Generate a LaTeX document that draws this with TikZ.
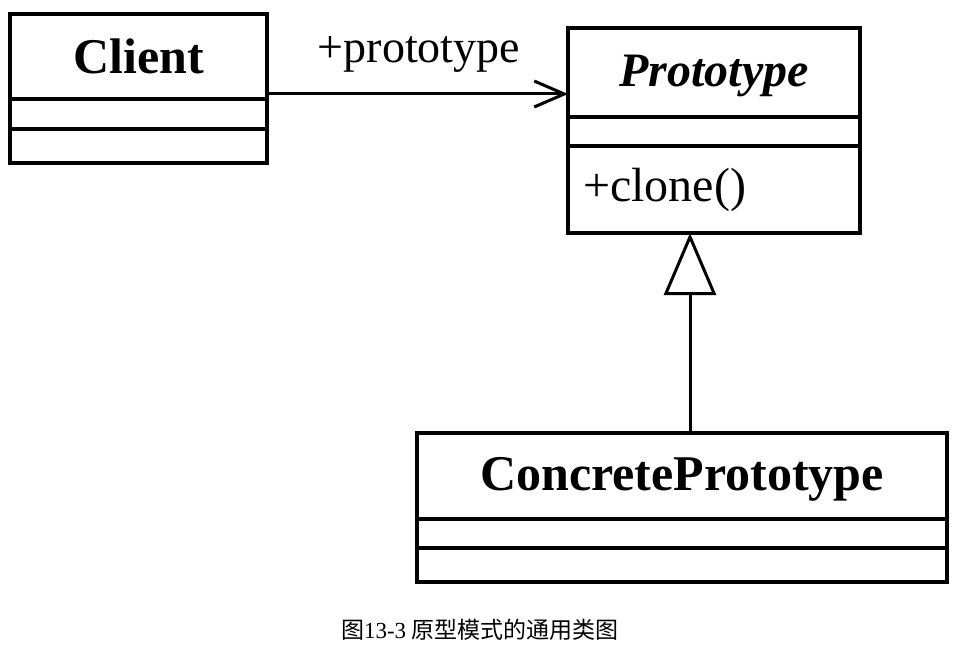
\documentclass[tikz,border=0pt]{standalone}
\usepackage{fontspec}
\setmainfont{Liberation Serif}
\newfontfamily\cjk{Noto Sans CJK SC}
\usetikzlibrary{positioning,arrows.meta}
\tikzset{
  umlbox/.style={draw, line width=3.2pt, outer sep=0pt, inner sep=0pt},
  umlname/.style={umlbox, font=\fontsize{50}{56}\selectfont\bfseries},
  umlpart/.style={umlbox},
  assoc/.style={line width=3pt, -{Straight Barb[length=30pt, width=26pt]}},
  inherit/.style={line width=3pt, -{Triangle[open, length=62pt, width=52pt]}}
}
\begin{document}
\begin{tikzpicture}[x=1pt, y=-1pt]
    \useasboundingbox (0,0) rectangle (960,647);
    % Client
    \node[umlname, minimum width=257pt, minimum height=85pt] (clientName) at (138.5,56.5) {Client};
    \node[umlpart, minimum width=257pt, minimum height=30pt, below=0pt of clientName] (clientAttr) {};
    \node[umlpart, minimum width=257pt, minimum height=34pt, below=0pt of clientAttr] (clientOps) {};
    % Prototype
    \node[umlname, font=\fontsize{48}{54}\selectfont\bfseries\itshape, minimum width=292pt, minimum height=89pt, text depth=4pt] (protoName) at (714,72.5) {Prototype};
    \node[umlpart, minimum width=292pt, minimum height=29pt, below=0pt of protoName] (protoAttr) {};
    \node[umlpart, minimum width=292pt, minimum height=87pt, inner xsep=15pt, text width=262pt, align=left, font=\fontsize{48}{54}\selectfont, below=0pt of protoAttr] (protoOps) {+clone()};
    % ConcretePrototype
    \node[umlname, minimum width=530pt, minimum height=86pt, text depth=4pt] (concName) at (682,476) {ConcretePrototype};
    \node[umlpart, minimum width=530pt, minimum height=29pt, below=0pt of concName] (concAttr) {};
    \node[umlpart, minimum width=530pt, minimum height=34pt, below=0pt of concAttr] (concOps) {};
    % connectors
    \coordinate (assocY) at (0,94);
    \coordinate (inheritX) at (690,0);
    \draw[assoc] (clientName.east |- assocY) -- (protoName.west |- assocY);
    \node[font=\fontsize{46}{52}\selectfont] (roleLabel) at (419,54) {+prototype};
    \draw[inherit] (concName.north -| inheritX) -- (protoOps.south -| inheritX);
    % caption
    \node[font=\fontsize{23}{28}\selectfont] (caption) at (480,630) {{\cjk 图}13-3 {\cjk 原型模式的通用类图}};
\end{tikzpicture}
\end{document}
